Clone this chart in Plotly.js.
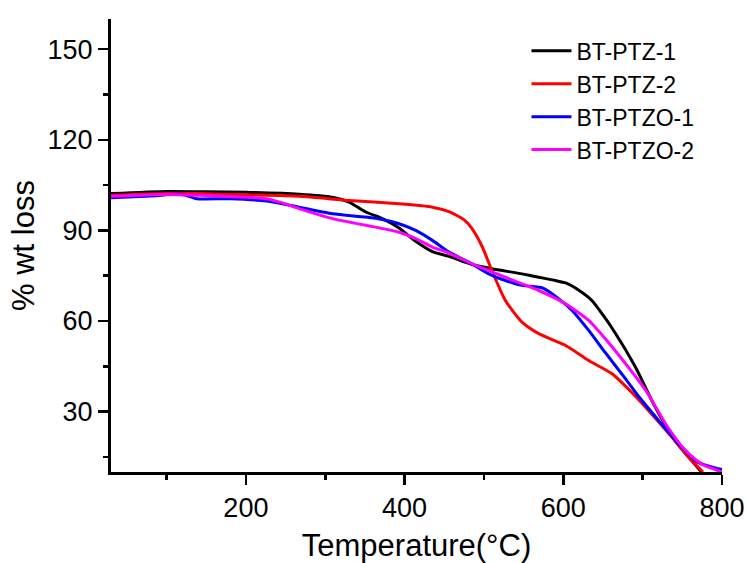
<!DOCTYPE html>
<html>
<head>
<meta charset="utf-8">
<script src="https://cdn.plot.ly/plotly-3.0.1.min.js"></script>
<style>html,body{margin:0;padding:0;background:#fff;}#chart{width:746px;height:563px;}</style>
</head>
<body>
<div id="chart"></div>
<script>
// Data
const seriesNames = ["BT-PTZ-1", "BT-PTZ-2", "BT-PTZO-1", "BT-PTZO-2"];
const seriesColors = ["#000000", "#ff0000", "#0000ff", "#ff00ff"];

const ptz1X = [30, 100, 150, 200, 267, 309, 330, 351, 372, 393, 414, 435, 456, 485, 510, 548, 569, 590, 603, 620, 636, 650, 666, 691, 716, 741, 762, 774];
const ptz1Y = [102.2, 102.9, 102.8, 102.6, 102.0, 101.0, 99.4, 96.1, 93.9, 90.8, 86.4, 83.0, 81.4, 78.7, 77.3, 75.6, 74.5, 73.4, 72.6, 70.1, 66.8, 62.0, 55.8, 44.7, 31.4, 20.3, 13.7, 10.0];

const ptz2X = [30, 100, 142, 200, 267, 330, 393, 435, 456, 475, 485, 498, 510, 527, 548, 569, 603, 632, 661, 686, 711, 737, 758, 776];
const ptz2Y = [101.6, 102.2, 102.2, 101.8, 101.3, 99.9, 98.8, 97.7, 96.2, 93.5, 90.6, 84.5, 76.7, 66.8, 59.6, 55.8, 51.9, 46.9, 42.6, 36.4, 29.3, 21.5, 14.9, 10.0];

const ptzo1X = [30, 80, 120, 138, 180, 226, 267, 309, 351, 372, 393, 414, 435, 456, 485, 506, 527, 548, 570, 575, 594, 611, 632, 653, 678, 695, 720, 745, 770, 795, 800];
const ptzo1Y = [100.8, 101.4, 101.9, 100.5, 100.5, 99.7, 97.7, 95.5, 94.4, 93.6, 92.2, 90.0, 86.7, 82.8, 78.9, 75.6, 73.4, 71.8, 71.2, 70.8, 67.4, 63.5, 56.9, 49.5, 41.0, 35.0, 27.1, 19.4, 13.2, 11.1, 10.8];

const ptzo2X = [30, 100, 142, 200, 226, 246, 267, 309, 351, 393, 414, 435, 456, 485, 506, 527, 548, 569, 594, 603, 632, 653, 678, 704, 729, 754, 774, 800];
const ptzo2Y = [101.3, 101.9, 101.6, 101.0, 100.5, 99.1, 97.2, 93.9, 91.7, 89.4, 87.3, 84.5, 82.5, 78.9, 76.7, 74.5, 72.3, 70.1, 67.0, 65.7, 60.2, 54.1, 46.0, 37.0, 25.9, 17.1, 12.7, 10.0];

const xs = [ptz1X, ptz2X, ptzo1X, ptzo2X];
const ys = [ptz1Y, ptz2Y, ptzo1Y, ptzo2Y];

const xRange = [30, 800];
const yRange = [10, 160];
const xTickVals = [200, 400, 600, 800];
const yTickVals = [30, 60, 90, 120, 150];

const traces = seriesNames.map((n, i) => ({
  type: 'scatter', mode: 'lines', name: n,
  x: xs[i], y: ys[i],
  line: {color: seriesColors[i], width: 3, shape: 'spline', smoothing: 0.6},
  cliponaxis: true
}));

const font = "Liberation Sans, Arial, sans-serif";

const layout = {
  width: 746, height: 563,
  paper_bgcolor: '#fff', plot_bgcolor: '#fff',
  margin: {l: 111, r: 24, t: 19, b: 91},
  font: {family: font, color: '#000'},
  showlegend: true,
  legend: {
    x: 0.68, y: 0.977, xanchor: 'left', yanchor: 'top',
    bgcolor: 'rgba(0,0,0,0)', borderwidth: 0,
    font: {family: font, size: 23, color: '#000'},
    tracegroupgap: 0, itemwidth: 40
  },
  xaxis: {
    range: xRange, tickvals: xTickVals, ticktext: xTickVals.map(String),
    ticks: 'outside', ticklen: 10, tickwidth: 2.5, tickcolor: '#000',
    minor: {tickvals: [100, 300, 500, 700], ticks: 'outside', ticklen: 5, tickwidth: 2.5, tickcolor: '#000'},
    showline: true, linewidth: 3, linecolor: '#000',
    showgrid: false, zeroline: false,
    tickfont: {family: font, size: 27, color: '#000'},
    title: {text: 'Temperature(°C)', font: {family: font, size: 31, color: '#000'}, standoff: 14}
  },
  yaxis: {
    range: yRange, tickvals: yTickVals, ticktext: yTickVals.map(String),
    ticks: 'outside', ticklen: 10, tickwidth: 2.5, tickcolor: '#000',
    minor: {tickvals: [15, 45, 75, 105, 135], ticks: 'outside', ticklen: 5, tickwidth: 2.5, tickcolor: '#000'},
    showline: true, linewidth: 3, linecolor: '#000',
    showgrid: false, zeroline: false,
    tickfont: {family: font, size: 27, color: '#000'},
    title: {text: '% wt loss', font: {family: font, size: 31, color: '#000'}, standoff: 4}
  },
  xaxis2: {
    overlaying: 'x', side: 'top', anchor: 'y', range: xRange,
    tick0: 30, dtick: 77, ticks: 'inside', ticklen: 6, tickwidth: 2, tickcolor: '#000',
    showticklabels: false, showline: true, linewidth: 3, linecolor: '#000',
    showgrid: false, zeroline: false
  },
  yaxis2: {
    overlaying: 'y', side: 'right', anchor: 'x', range: yRange,
    tick0: 10, dtick: 15, ticks: 'inside', ticklen: 6, tickwidth: 2, tickcolor: '#000',
    showticklabels: false, showline: true, linewidth: 3, linecolor: '#000',
    showgrid: false, zeroline: false
  }
};

Plotly.newPlot('chart', traces, layout, {displayModeBar: false, staticPlot: true});
</script>
</body>
</html>
